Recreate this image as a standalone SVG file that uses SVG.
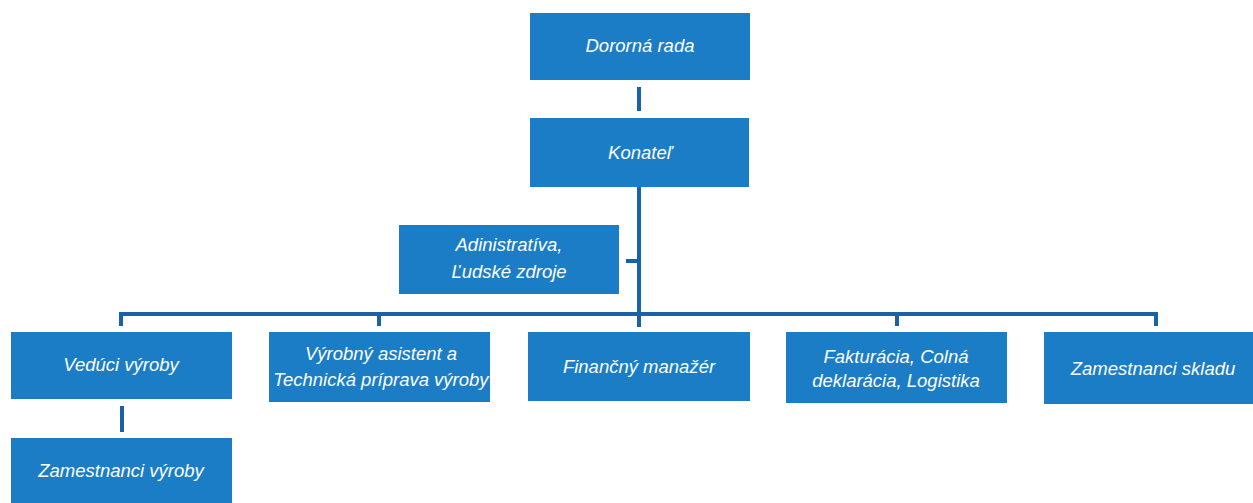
<svg xmlns="http://www.w3.org/2000/svg" width="1253" height="503" viewBox="0 0 1253 503">
<style>
.box{fill:#1b7dc6;}
.t{fill:#ffffff;font-family:"Liberation Sans",Arial,sans-serif;font-style:italic;font-size:18.5px;text-anchor:middle;}
.c{stroke:#1a62a8;stroke-width:4;fill:none;}
</style>
<rect width="1253" height="503" fill="#ffffff"/>
<g id="connectors">
<line class="c" x1="639" y1="87" x2="639" y2="111"/>
<line class="c" x1="639" y1="187" x2="639" y2="327"/>
<line class="c" x1="626" y1="261" x2="639" y2="261"/>
<polyline class="c" points="121,326 121,314 1156,314 1156,326"/>
<line class="c" x1="379" y1="314" x2="379" y2="326"/>
<line class="c" x1="897" y1="314" x2="897" y2="326"/>
<line class="c" x1="122" y1="406" x2="122" y2="432"/>
</g>
<g id="n1"><rect class="box" x="530" y="13" width="220" height="67"/><text class="t" x="640" y="52">Dororná rada</text></g>
<g id="n2"><rect class="box" x="530" y="118" width="219" height="69"/><text class="t" x="640" y="159">Konateľ</text></g>
<g id="n3"><rect class="box" x="399" y="225" width="220" height="69"/><text class="t" x="509" y="251">Adinistratíva,</text><text class="t" x="509" y="278">Ľudské zdroje</text></g>
<g id="n4"><rect class="box" x="11" y="332" width="221" height="67"/><text class="t" x="121" y="371">Vedúci výroby</text></g>
<g id="n5"><rect class="box" x="269" y="332" width="221" height="70"/><text class="t" x="381" y="360">Výrobný asistent a</text><text class="t" x="381" y="386">Technická príprava výroby</text></g>
<g id="n6"><rect class="box" x="528" y="332" width="222" height="69"/><text class="t" x="639" y="373">Finančný manažér</text></g>
<g id="n7"><rect class="box" x="786" y="332" width="221" height="71"/><text class="t" x="896" y="363">Fakturácia, Colná</text><text class="t" x="896" y="387">deklarácia, Logistika</text></g>
<g id="n8"><rect class="box" x="1044" y="332" width="209" height="72"/><text class="t" x="1153" y="375">Zamestnanci skladu</text></g>
<g id="n9"><rect class="box" x="11" y="438" width="221" height="65"/><text class="t" x="121" y="477">Zamestnanci výroby</text></g>
</svg>
